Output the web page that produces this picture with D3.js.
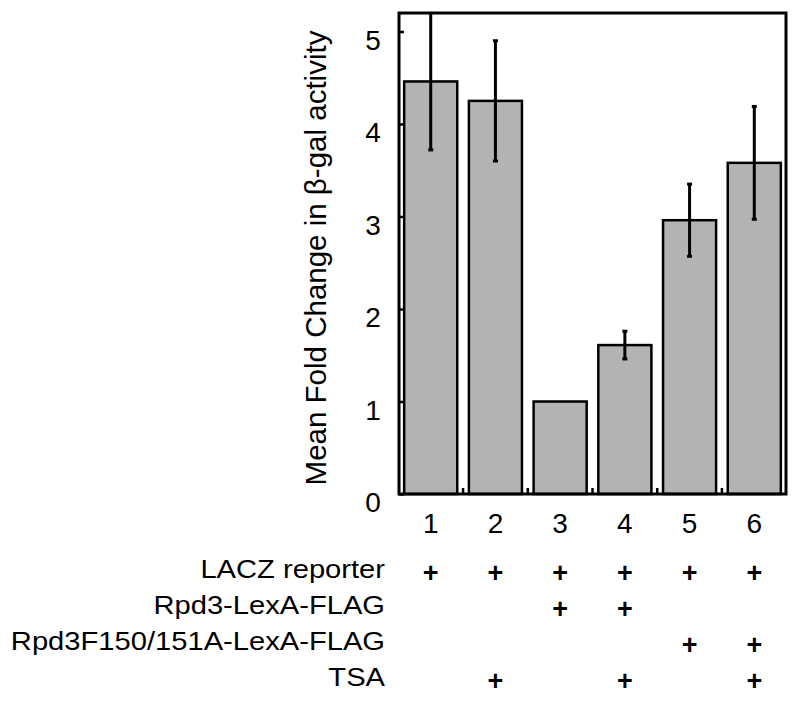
<!DOCTYPE html>
<html>
<head>
<meta charset="utf-8">
<script src="https://cdn.jsdelivr.net/npm/d3@7"></script>
<style>
  body { margin: 0; background: #fff; }
  text { font-family: "Liberation Sans", Arial, sans-serif; fill: #000; }
</style>
</head>
<body>
<script>
// chart values
const lanes = ["1", "2", "3", "4", "5", "6"];
const meanFold = [4.46, 4.25, 1.0, 1.61, 2.96, 3.58];
const errFold = [0.74, 0.65, 0, 0.15, 0.39, 0.61];
const yTicks = [0, 1, 2, 3, 4, 5];
const rowLabels = ["LACZ reporter", "Rpd3-LexA-FLAG", "Rpd3F150/151A-LexA-FLAG", "TSA"];
const rowMarks = [
  [1, 1, 1, 1, 1, 1],
  [0, 0, 1, 1, 0, 0],
  [0, 0, 0, 0, 1, 1],
  [0, 1, 0, 1, 0, 1]
];

const canvasW = 800;
const canvasH = 701;
const margin = ({top: 13, right: 14, bottom: 207, left: 399});

const svg = d3.select("body")
  .append("svg")
    .attr("width", canvasW)
    .attr("height", canvasH);

const xScale = d3.scaleBand()
  .domain(lanes)
  .range([margin.left, canvasW - margin.right])
  .paddingInner(0.18)
  .paddingOuter(0.08);

const yScale = d3.scaleLinear()
  .domain([0, 5.2])
  .range([canvasH - margin.bottom, margin.top]);

const y0 = yScale(0);
const mid = k => xScale(k) + xScale.bandwidth() / 2;

// bars
svg.selectAll(".bar")
  .data(meanFold)
  .enter()
  .append("rect")
    .attr("class", "bar")
    .attr("x", (d, i) => xScale(lanes[i]))
    .attr("y", d => yScale(d))
    .attr("width", xScale.bandwidth())
    .attr("height", d => y0 - yScale(d))
    .attr("fill", "#b3b3b3")
    .attr("stroke", "#000")
    .attr("stroke-width", 2.5);

// error bars (clipped by the frame top)
const errData = meanFold.map((m, i) => ({m: m, e: errFold[i], k: lanes[i]})).filter(d => d.e > 0);
const eb = svg.selectAll(".err")
  .data(errData)
  .enter()
  .append("g")
    .attr("class", "err");

eb.append("line")
  .attr("x1", d => mid(d.k))
  .attr("x2", d => mid(d.k))
  .attr("y1", d => Math.max(yScale(d.m + d.e), margin.top))
  .attr("y2", d => yScale(d.m - d.e))
  .attr("stroke", "#000")
  .attr("stroke-width", 3);

eb.selectAll(".cap")
  .data(d => [d.m + d.e, d.m - d.e].map(v => ({v: v, k: d.k})).filter(c => c.v <= 5.15))
  .enter()
  .append("line")
    .attr("x1", c => mid(c.k) - 2.5)
    .attr("x2", c => mid(c.k) + 2.5)
    .attr("y1", c => yScale(c.v))
    .attr("y2", c => yScale(c.v))
    .attr("stroke", "#000")
    .attr("stroke-width", 3);

// y axis ticks pointing inward
const yAxis = svg.append("g")
  .attr("transform", "translate(" + margin.left + ",0)")
  .call(d3.axisRight(yScale).tickValues(yTicks).tickSize(5).tickFormat(""));
yAxis.select(".domain").remove();
yAxis.selectAll("line").attr("stroke", "#000").attr("stroke-width", 2.5);

svg.selectAll(".ylab")
  .data(yTicks)
  .enter()
  .append("text")
    .attr("class", "ylab")
    .attr("x", 373)
    .attr("y", d => yScale(d) + 18)
    .attr("text-anchor", "middle")
    .attr("font-size", "28px")
    .text(d => d);

// x ticks between bars, pointing up
const step = xScale.step();
const between = lanes.slice(1).map(k => xScale(k) - step * xScale.paddingInner() / 2);
svg.selectAll(".xtick")
  .data(between)
  .enter()
  .append("line")
    .attr("x1", d => d)
    .attr("x2", d => d)
    .attr("y1", y0)
    .attr("y2", y0 - 6)
    .attr("stroke", "#000")
    .attr("stroke-width", 2.5);

// frame
svg.append("rect")
  .attr("x", margin.left)
  .attr("y", margin.top)
  .attr("width", canvasW - margin.right - margin.left)
  .attr("height", y0 - margin.top)
  .attr("fill", "none")
  .attr("stroke", "#000")
  .attr("stroke-width", 3);

// lane numbers
svg.selectAll(".xlab")
  .data(lanes)
  .enter()
  .append("text")
    .attr("class", "xlab")
    .attr("x", d => mid(d))
    .attr("y", 533)
    .attr("text-anchor", "middle")
    .attr("font-size", "28px")
    .text(d => d);

// y title
svg.append("text")
  .attr("text-anchor", "middle")
  .attr("font-size", "29.5px")
  .attr("transform", "translate(326,258) rotate(-90)")
  .text("Mean Fold Change in \u03b2-gal activity");

// condition table
const rowY = [578, 614, 650, 686];
svg.selectAll(".rowlab")
  .data(rowLabels)
  .enter()
  .append("text")
    .attr("class", "rowlab")
    .attr("text-anchor", "end")
    .attr("font-size", "26.5px")
    .attr("transform", (d, i) => "translate(385," + rowY[i] + ") scale(1.1,1)")
    .text(d => d);

rowMarks.forEach((row, r) => {
  const on = row.map((v, i) => v ? lanes[i] : null).filter(k => k !== null);
  svg.selectAll(".plus" + r)
    .data(on)
    .enter()
    .append("text")
      .attr("class", "plus" + r)
      .attr("x", d => mid(d))
      .attr("y", rowY[r] + 4)
      .attr("text-anchor", "middle")
      .attr("font-size", "27px")
      .attr("font-weight", "bold")
      .text("+");
});
</script>
</body>
</html>
